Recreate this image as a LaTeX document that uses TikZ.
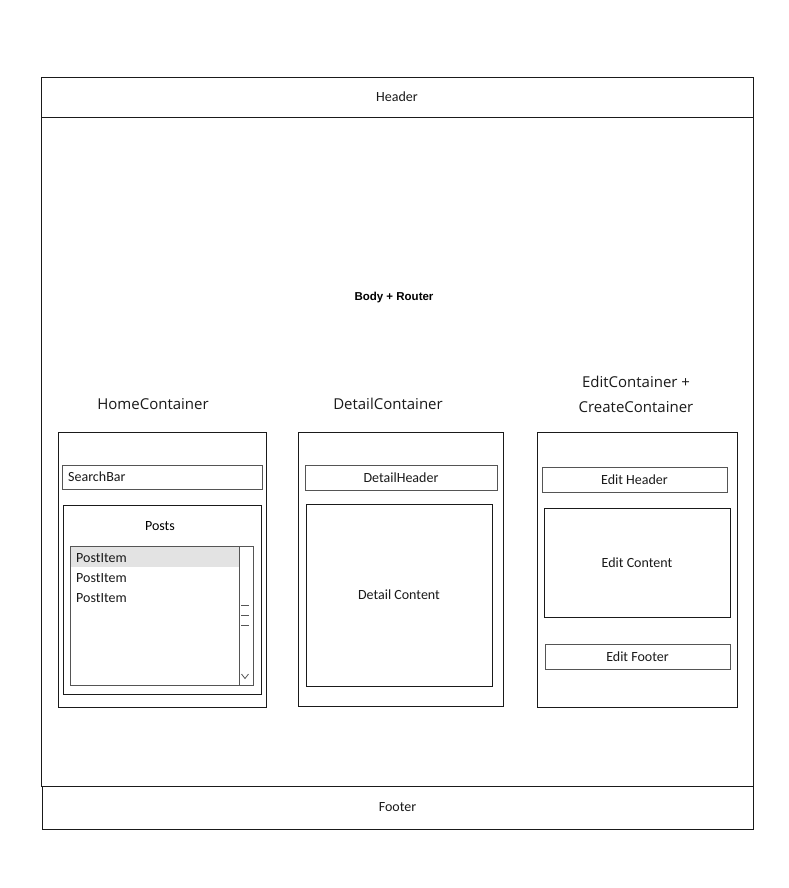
\documentclass[tikz,border=0pt]{standalone}
\usepackage{fontspec}
\setmainfont{Carlito}
\newfontfamily\titlefont{Open Sans}
\newfontfamily\boldarial{Liberation Sans}
\usetikzlibrary{positioning}
\definecolor{WireDark}{HTML}{1A1A1A}
\definecolor{WireGray}{HTML}{555555}
\definecolor{WireRow}{HTML}{E3E3E3}
\newcommand{\WireText}{\fontsize{14}{16}\selectfont}
\newcommand{\WireTitle}{\titlefont\fontsize{15}{25}\selectfont}
\newcommand{\WireBold}{\boldarial\fontsize{11.5}{13}\selectfont\bfseries}
\tikzset{
  wirebase/.style={
    rectangle,
    draw=WireDark,
    fill=white,
    line width=0.8pt,
    inner sep=0pt,
    text=WireDark,
    font=\WireText
  },
  framebox/.style={wirebase},
  panelbox/.style={wirebase, draw=WireDark, line width=0.9pt},
  fieldbox/.style={wirebase, draw=WireGray, line width=0.95pt},
  listbox/.style={wirebase, draw=WireGray, line width=0.95pt, fill=none},
  rowbox/.style={rectangle, fill=WireRow, draw=none, inner sep=0pt},
  itemtext/.style={text=WireDark, font=\WireText, inner sep=0pt, anchor=west},
  titletext/.style={text=WireDark, font=\WireTitle, align=center, inner sep=0pt},
  scrollmark/.style={draw=WireGray, line width=0.8pt}
}

\begin{document}
\begin{tikzpicture}[x=1pt,y=-1pt]
\path[use as bounding box] (0,0) rectangle (789,888);

% page frame
\node[framebox, minimum width=712, minimum height=669] (body) at (397,451.5) {};
\node[framebox, minimum width=712, minimum height=40] (header) at (397,97) {Header};
\node[framebox, minimum width=711, minimum height=43] (footer) at (397.5,807.5) {Footer};
\node[font=\WireBold, inner sep=0pt] (router) at (394,298) {Body + Router};

% home container
\node[titletext] (hometitle) at (153,404) {HomeContainer};
\node[panelbox, minimum width=208, minimum height=275] (home) at (162,569.5) {};
\node[fieldbox, minimum width=200, minimum height=24] (search) at (162,477) {};
\node[itemtext] at (68,477) {SearchBar};
\node[panelbox, minimum width=198, minimum height=189] (posts) at (162,599.5) {};
\node[inner sep=0pt, font=\WireText] (poststitle) at (160,526) {Posts};
\node[rowbox, minimum width=169, minimum height=20] (row1) at (154.5,557) {};
\node[listbox, minimum width=183, minimum height=139] (list) at (161.5,615.5) {};
\draw[listbox] (239,546) rectangle (253,685);
\node[itemtext] (item1) at (76,558) {PostItem};
\node[itemtext] (item2) at (76,578) {PostItem};
\node[itemtext] (item3) at (76,598) {PostItem};
\foreach \y in {605,615,625}
  \draw[scrollmark] (241,\y) -- (249,\y);
\draw[scrollmark] (241.5,674) -- (245,678.5) -- (248.5,674);

% detail container
\node[titletext] (detailtitle) at (388,404) {DetailContainer};
\node[panelbox, minimum width=205, minimum height=274] (detail) at (400.5,569) {};
\node[fieldbox, minimum width=192, minimum height=25] (dheader) at (401,477.5) {DetailHeader};
\node[panelbox, minimum width=186, minimum height=182] (dcontent) at (399,595) {Detail Content};

% edit / create container
\node[titletext] (edittitle) at (636,394.5) {EditContainer +\\CreateContainer};
\node[panelbox, minimum width=200, minimum height=275] (edit) at (637,569.5) {};
\node[fieldbox, minimum width=185, minimum height=25] (eheader) at (634.5,479.5) {Edit Header};
\node[panelbox, minimum width=186, minimum height=109] (econtent) at (637,562.5) {Edit Content};
\node[fieldbox, minimum width=185, minimum height=25] (efooter) at (637.5,656.5) {Edit Footer};

\end{tikzpicture}
\end{document}
